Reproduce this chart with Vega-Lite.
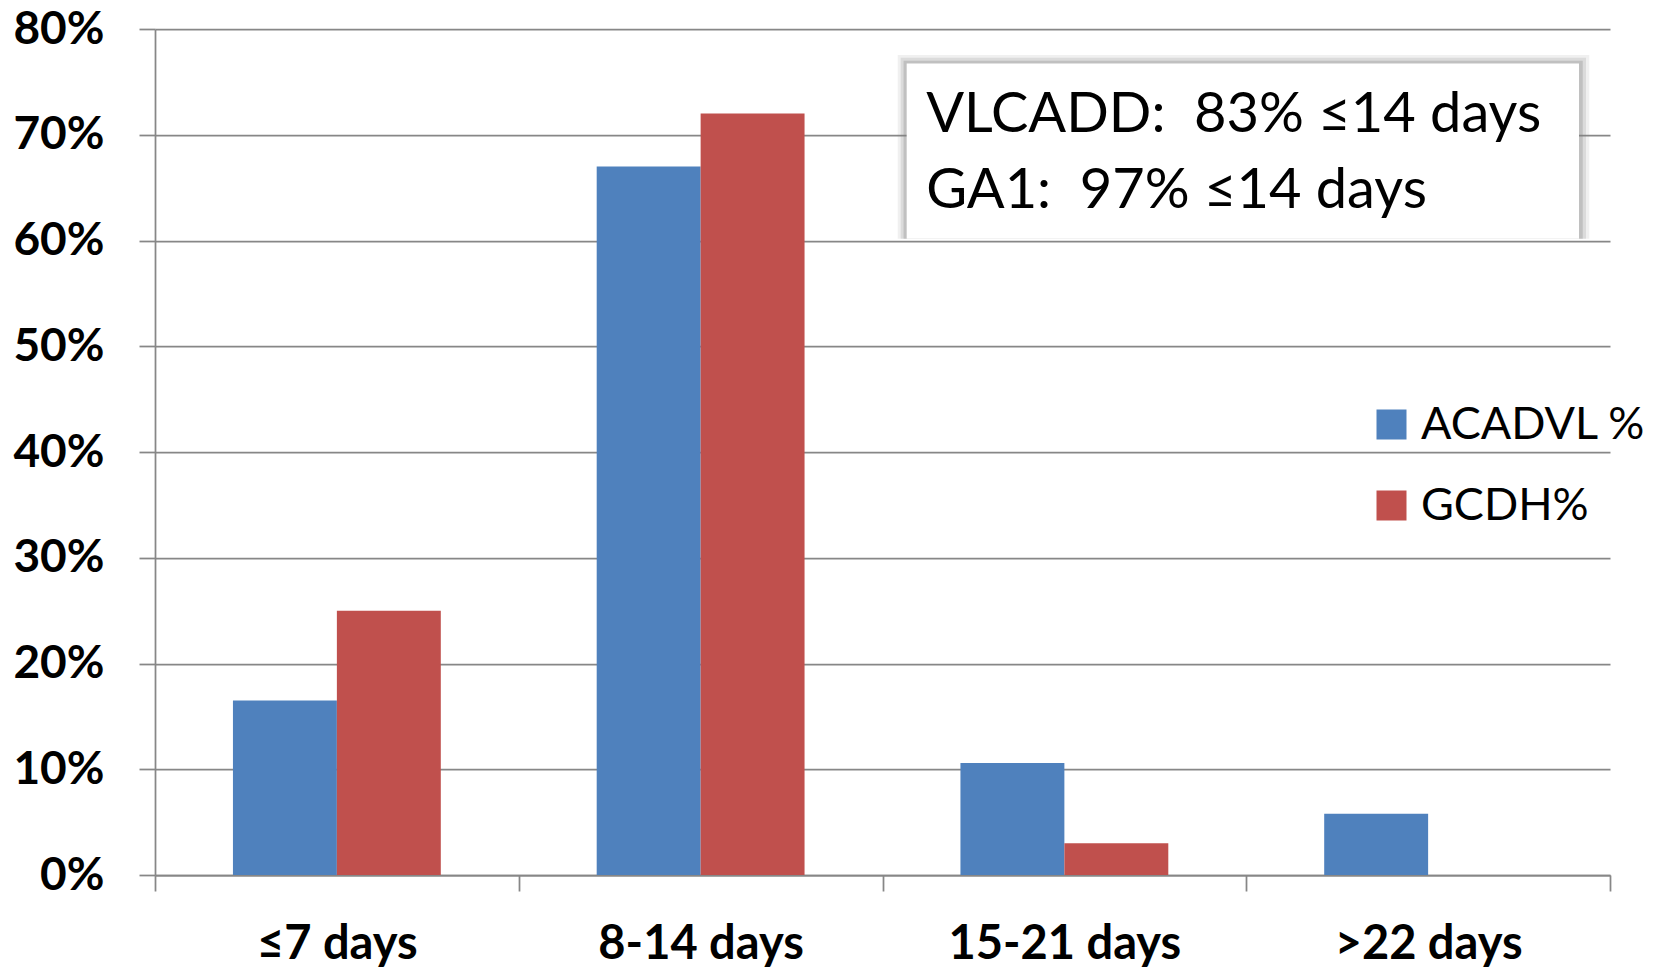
{
  "$schema": "https://vega.github.io/schema/vega-lite/v6.json",
  "width": 1455,
  "height": 846,
  "autosize": {"type": "none"},
  "padding": {"left": 155, "top": 29, "right": 54, "bottom": 94},
  "background": "white",
  "config": {"view": {"stroke": null}, "font": "Lato"},
  "layer": [
    {
      "data": {
        "values": [
          {"onset": "≤7 days", "gene": "ACADVL %", "pct": 0.165},
          {"onset": "≤7 days", "gene": "GCDH%", "pct": 0.25},
          {"onset": "8-14 days", "gene": "ACADVL %", "pct": 0.67},
          {"onset": "8-14 days", "gene": "GCDH%", "pct": 0.72},
          {"onset": "15-21 days", "gene": "ACADVL %", "pct": 0.106},
          {"onset": "15-21 days", "gene": "GCDH%", "pct": 0.03},
          {"onset": ">22 days", "gene": "ACADVL %", "pct": 0.058},
          {"onset": ">22 days", "gene": "GCDH%", "pct": 0}
        ]
      },
      "mark": {"type": "bar"},
      "encoding": {
        "x": {
          "field": "onset",
          "type": "nominal",
          "sort": ["≤7 days", "8-14 days", "15-21 days", ">22 days"],
          "scale": {"paddingInner": 0, "paddingOuter": 0},
          "axis": {
            "title": null,
            "tickBand": "extent",
            "labelAngle": 0,
            "labelFont": "Lato",
            "labelFontWeight": "bold",
            "labelFontSize": 47,
            "labelColor": "black",
            "labelLimit": 400,
            "labelPadding": 67,
            "labelBaseline": "alphabetic",
            "tickSize": 16,
            "tickColor": "#878787",
            "tickWidth": 1.75,
            "domainColor": "#878787",
            "domainWidth": 1.75,
            "grid": false
          }
        },
        "xOffset": {
          "field": "gene",
          "type": "nominal",
          "sort": ["ACADVL %", "GCDH%"],
          "scale": {"paddingInner": 0, "paddingOuter": 0.75}
        },
        "y": {
          "field": "pct",
          "type": "quantitative",
          "scale": {"domain": [0, 0.8]},
          "axis": {
            "title": null,
            "values": [0, 0.1, 0.2, 0.3, 0.4, 0.5, 0.6, 0.7, 0.8],
            "format": ".0%",
            "labelFont": "Lato",
            "labelFontWeight": "bold",
            "labelFontSize": 46,
            "labelColor": "black",
            "labelPadding": 35,
            "tickSize": 16,
            "tickColor": "#878787",
            "tickWidth": 1.75,
            "domainColor": "#878787",
            "domainWidth": 1.75,
            "grid": true,
            "gridColor": "#878787",
            "gridWidth": 1.75
          }
        },
        "color": {
          "field": "gene",
          "type": "nominal",
          "scale": {"domain": ["ACADVL %", "GCDH%"], "range": ["#4F81BD", "#C0504D"]},
          "legend": {
            "orient": "none",
            "legendX": 1214,
            "legendY": 373,
            "title": null,
            "symbolType": "square",
            "symbolSize": 900,
            "symbolStrokeWidth": 0,
            "labelFont": "Lato",
            "labelFontSize": 45,
            "labelColor": "black",
            "labelOffset": 7,
            "labelLimit": 400,
            "rowPadding": 35
          }
        }
      }
    },
    {
      "data": {"values": [{"note": "onset summary"}]},
      "layer": [
        {
          "mark": {"type": "rect", "fill": "#808080", "opacity": 0.12},
          "encoding": {
            "x": {"datum": 2.042, "type": "quantitative", "scale": {"domain": [0, 4]}, "axis": null},
            "x2": {"datum": 3.943},
            "y": {"datum": 0.7755, "type": "quantitative"},
            "y2": {"datum": 0.6016}
          }
        },
        {
          "mark": {"type": "rect", "fill": "#808080", "opacity": 0.18},
          "encoding": {
            "x": {"datum": 2.050, "type": "quantitative", "scale": {"domain": [0, 4]}, "axis": null},
            "x2": {"datum": 3.934},
            "y": {"datum": 0.7727, "type": "quantitative"},
            "y2": {"datum": 0.6016}
          }
        },
        {
          "mark": {"type": "rect", "fill": "#808080", "opacity": 0.3},
          "encoding": {
            "x": {"datum": 2.058, "type": "quantitative", "scale": {"domain": [0, 4]}, "axis": null},
            "x2": {"datum": 3.925},
            "y": {"datum": 0.7700, "type": "quantitative"},
            "y2": {"datum": 0.6016}
          }
        },
        {
          "mark": {"type": "rect", "fill": "white"},
          "encoding": {
            "x": {"datum": 2.0665, "type": "quantitative", "scale": {"domain": [0, 4]}, "axis": null},
            "x2": {"datum": 3.9148},
            "y": {"datum": 0.7673, "type": "quantitative"},
            "y2": {"datum": 0.6016}
          }
        },
        {
          "mark": {
            "type": "text",
            "align": "left",
            "baseline": "alphabetic",
            "font": "Lato",
            "fontSize": 56,
            "lineHeight": 76,
            "color": "black",
            "text": ["VLCADD:\u00a0 83% ≤14 days", "GA1:\u00a0 97% ≤14 days"]
          },
          "encoding": {
            "x": {"datum": 2.12, "type": "quantitative", "scale": {"domain": [0, 4]}, "axis": null},
            "y": {"datum": 0.703, "type": "quantitative"}
          }
        }
      ]
    }
  ],
  "resolve": {"scale": {"x": "independent"}}
}
